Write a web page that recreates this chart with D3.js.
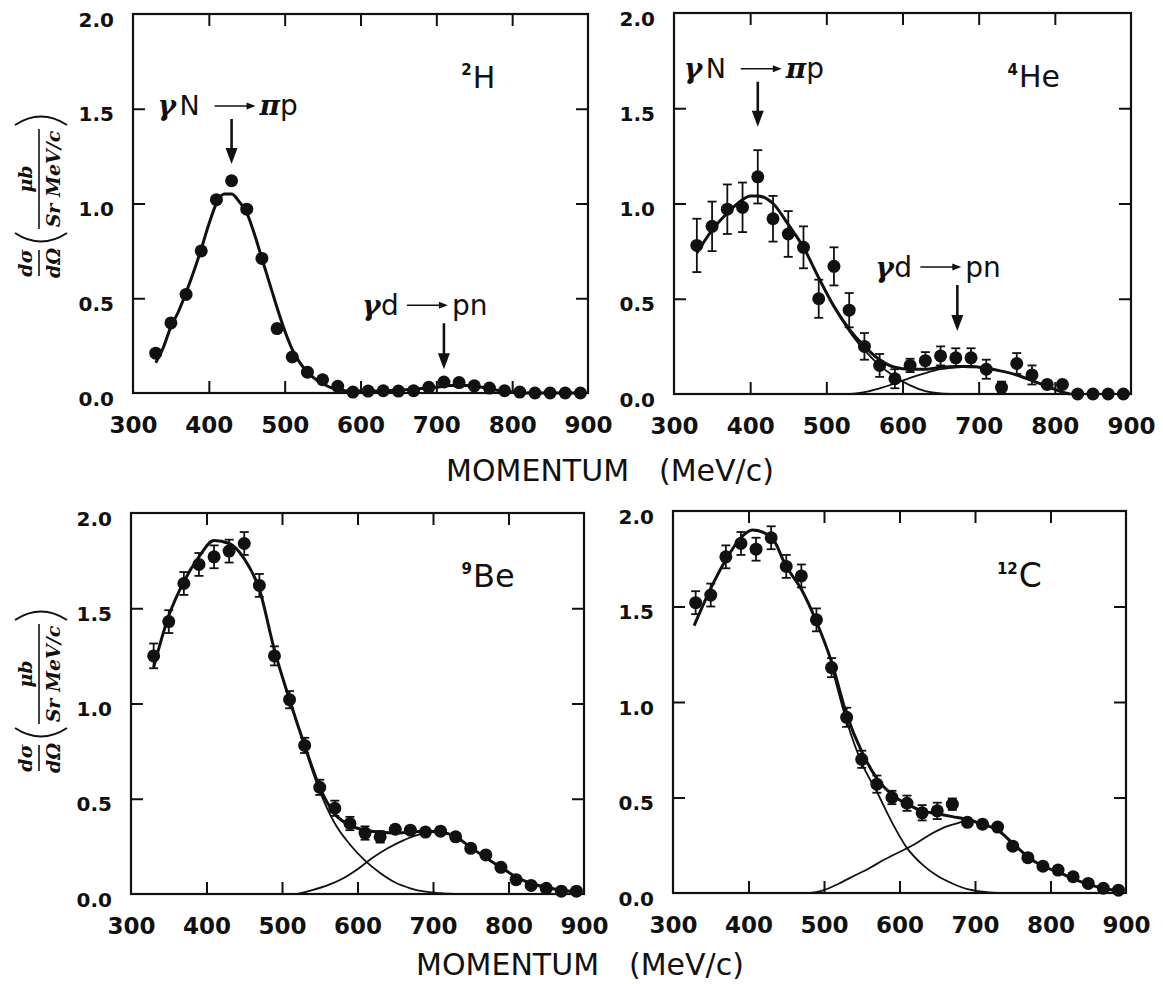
<!DOCTYPE html>
<html>
<head>
<meta charset="UTF-8">
<title>photoproton momentum spectra</title>
<script src="https://cdnjs.cloudflare.com/ajax/libs/d3/7.8.5/d3.min.js"></script>
<style>
  body { margin: 0; background: #fff; }
  svg text { fill: #111; }
  .tick text { font-family: "DejaVu Sans", sans-serif; font-weight: bold; }
  .sans { font-family: "DejaVu Sans", sans-serif; }
  .greek { font-family: "DejaVu Serif", serif; font-style: italic; font-weight: bold; }
  .ytitle text { font-family: "DejaVu Serif", serif; font-style: italic; font-weight: bold; font-size: 19px; text-anchor: middle; }
</style>
</head>
<body>
<div id="chart"></div>
<script>
// ---- data ----
var momentum = [330, 350, 370, 390, 410, 430, 450, 470, 490, 510, 530, 550, 570, 590, 610,
                630, 650, 670, 690, 710, 730, 750, 770, 790, 810, 830, 850, 870, 890];

var h2Values = [0.21, 0.37, 0.52, 0.75, 1.02, 1.12, 0.97, 0.71, 0.34, 0.19, 0.11, 0.07, 0.035, 0.005, 0.01,
                0.012, 0.01, 0.012, 0.03, 0.058, 0.055, 0.038, 0.026, 0.012, 0.005, 0, 0, 0, 0];

var he4Values = [0.78, 0.88, 0.97, 0.98, 1.14, 0.92, 0.84, 0.77, 0.50, 0.67, 0.44, 0.25, 0.15, 0.08, 0.15,
                 0.175, 0.20, 0.19, 0.19, 0.13, 0.035, 0.16, 0.10, 0.05, 0.05, 0, 0, 0, 0];
var he4Errors = [0.14, 0.13, 0.13, 0.13, 0.14, 0.12, 0.12, 0.11, 0.10, 0.10, 0.09, 0.07, 0.06, 0.05, 0.035,
                 0.045, 0.05, 0.05, 0.05, 0.05, 0.03, 0.055, 0.05, 0.02, 0.02, 0, 0, 0, 0];

var be9Values = [1.25, 1.43, 1.63, 1.73, 1.77, 1.80, 1.84, 1.62, 1.25, 1.02, 0.78, 0.56, 0.45, 0.37, 0.32,
                 0.30, 0.34, 0.335, 0.325, 0.33, 0.30, 0.24, 0.205, 0.14, 0.075, 0.045, 0.03, 0.015, 0.015];
var be9Errors = [0.065, 0.06, 0.06, 0.06, 0.06, 0.06, 0.06, 0.06, 0.05, 0.045, 0.04, 0.04, 0.04, 0.035, 0.035,
                 0.03, 0.02, 0.02, 0.02, 0.02, 0.02, 0.02, 0.02, 0.02, 0.02, 0.015, 0.015, 0.01, 0.01];

var c12Values = [1.52, 1.56, 1.76, 1.83, 1.80, 1.86, 1.71, 1.66, 1.43, 1.18, 0.92, 0.70, 0.57, 0.50, 0.47,
                 0.42, 0.43, 0.465, 0.37, 0.36, 0.345, 0.245, 0.185, 0.14, 0.12, 0.085, 0.05, 0.025, 0.015];
var c12Errors = [0.06, 0.06, 0.06, 0.06, 0.06, 0.06, 0.06, 0.06, 0.06, 0.05, 0.05, 0.045, 0.045, 0.035, 0.04,
                 0.04, 0.043, 0.03, 0.02, 0.02, 0.02, 0.02, 0.02, 0.02, 0.02, 0.02, 0.015, 0.01, 0.01];

// fitted curves
var h2FitMomentum = [330, 340, 350, 360, 370, 380, 390, 400, 410, 420, 430, 440, 450, 460, 470, 480, 490, 500,
                     510, 520, 530, 540, 550, 560, 570, 580, 600, 650, 700, 720, 740, 760, 780, 800, 820, 890];
var h2Fit = [0.16, 0.24, 0.35, 0.43, 0.53, 0.64, 0.76, 0.89, 1.0, 1.05, 1.05, 1.01, 0.95, 0.84, 0.71, 0.58, 0.45, 0.33,
             0.23, 0.16, 0.11, 0.075, 0.05, 0.03, 0.02, 0.012, 0.01, 0.015, 0.03, 0.04, 0.04, 0.03, 0.015, 0.005, 0, 0];

var he4FitMomentum = [330, 350, 370, 390, 400, 410, 430, 450, 470, 490, 510, 530, 550, 570, 590, 610, 630, 650,
                      670, 690, 710, 730, 750, 770, 790, 810, 820];
var he4Fit = [0.74, 0.86, 0.95, 1.02, 1.04, 1.04, 1.0, 0.89, 0.77, 0.61, 0.46, 0.34, 0.25, 0.18, 0.14, 0.13, 0.13, 0.14,
              0.145, 0.145, 0.135, 0.12, 0.10, 0.07, 0.04, 0.01, 0];
var he4PiMomentum = [510, 530, 550, 570, 590, 610, 630, 650, 670];
var he4Pi = [0.46, 0.33, 0.23, 0.15, 0.09, 0.045, 0.015, 0.003, 0];
var he4PnMomentum = [530, 550, 570, 590, 610, 630, 650, 670, 690];
var he4Pn = [0, 0.01, 0.03, 0.055, 0.085, 0.11, 0.13, 0.14, 0.145];

var be9FitMomentum = [330, 350, 370, 390, 410, 430, 450, 470, 490, 510, 530, 550, 570, 590, 610, 630, 650, 670,
                      690, 710, 730, 750, 770, 790, 810, 830, 850, 870, 890];
var be9Fit = [1.19, 1.46, 1.64, 1.77, 1.855, 1.84, 1.76, 1.60, 1.28, 1.02, 0.78, 0.56, 0.42, 0.36, 0.335, 0.325, 0.32, 0.325,
              0.33, 0.325, 0.30, 0.245, 0.19, 0.14, 0.09, 0.055, 0.035, 0.02, 0.012];
var be9PiMomentum = [530, 550, 570, 590, 610, 630, 650, 670, 690, 710, 730];
var be9Pi = [0.77, 0.54, 0.37, 0.26, 0.175, 0.11, 0.06, 0.03, 0.012, 0.004, 0];
var be9PnMomentum = [520, 540, 560, 580, 600, 620, 640, 660, 680, 700, 720, 730];
var be9Pn = [0, 0.02, 0.045, 0.08, 0.13, 0.19, 0.24, 0.28, 0.31, 0.325, 0.315, 0.30];

var c12FitMomentum = [328, 350, 370, 390, 405, 430, 450, 470, 490, 510, 530, 550, 570, 590, 610, 630, 650, 670,
                      690, 710, 730, 750, 770, 790, 810, 830, 850, 870, 890];
var c12Fit = [1.40, 1.595, 1.745, 1.86, 1.90, 1.865, 1.71, 1.59, 1.42, 1.21, 0.935, 0.74, 0.60, 0.515, 0.465, 0.43, 0.415, 0.40,
              0.385, 0.36, 0.33, 0.26, 0.19, 0.14, 0.11, 0.075, 0.045, 0.025, 0.01];
var c12PiMomentum = [510, 530, 550, 570, 590, 610, 630, 650, 670, 690, 710, 730];
var c12Pi = [1.19, 0.90, 0.68, 0.53, 0.37, 0.235, 0.15, 0.09, 0.05, 0.02, 0.007, 0];
var c12PnMomentum = [482, 500, 520, 540, 560, 580, 600, 620, 640, 660, 680, 690];
var c12Pn = [0, 0.015, 0.05, 0.09, 0.13, 0.175, 0.215, 0.255, 0.305, 0.345, 0.37, 0.385];

// axis ticks
var xTicks = [400, 500, 600, 700, 800];
var xTickLabels = [300, 400, 500, 600, 700, 800, 900];
var yTicks = [0.5, 1.0, 1.5];
var yTickLabels = [0.0, 0.5, 1.0, 1.5, 2.0];

var ink = "#111";

var svg = d3.select("#chart").append("svg")
    .attr("width", 1163)
    .attr("height", 984)
    .style("background", "#fff");

var panels = [
  { box: [133, 14, 455, 379], values: h2Values, errors: null,
    fit: [h2FitMomentum, h2Fit], parts: [],
    nucleus: { sup: "2", main: "H", size: 30, at: [748, 1.61] },
    reactions: [
      { kind: "N", at: [430, 1.467] },
      { kind: "d", at: [710, 0.41] }
    ] },
  { box: [674, 13, 457, 381], values: he4Values, errors: he4Errors,
    fit: [he4FitMomentum, he4Fit], parts: [[he4PiMomentum, he4Pi], [he4PnMomentum, he4Pn]],
    nucleus: { sup: "4", main: "He", size: 30, at: [753, 1.61] },
    reactions: [
      { kind: "N", at: [410, 1.66] },
      { kind: "d", at: [672, 0.614] }
    ] },
  { box: [131, 513, 453, 381], values: be9Values, errors: be9Errors,
    fit: [be9FitMomentum, be9Fit], parts: [[be9PiMomentum, be9Pi], [be9PnMomentum, be9Pn]],
    nucleus: { sup: "9", main: "Be", size: 32, at: [753, 1.61] },
    reactions: [] },
  { box: [673, 511, 453, 382], values: c12Values, errors: c12Errors,
    fit: [c12FitMomentum, c12Fit], parts: [[c12PiMomentum, c12Pi], [c12PnMomentum, c12Pn]],
    nucleus: { sup: "12", main: "C", size: 33, at: [758, 1.60] },
    reactions: [] }
];

function downArrow(a, x0, y0, y1) {
  a.append("line").attr("x1", x0).attr("x2", x0).attr("y1", y0).attr("y2", y1 - 12)
    .attr("stroke", ink).attr("stroke-width", 2.6);
  a.append("path").attr("d", "M" + (x0 - 6) + "," + (y1 - 16) + " L" + (x0 + 6) + "," + (y1 - 16) + " L" + x0 + "," + y1 + " Z")
    .attr("fill", ink);
}

function rightArrow(a, x0, x1, yy) {
  a.append("line").attr("x1", x0).attr("x2", x1 - 7).attr("y1", yy).attr("y2", yy)
    .attr("stroke", ink).attr("stroke-width", 1.6);
  a.append("path").attr("d", "M" + (x1 - 9) + "," + (yy - 3.5) + " L" + x1 + "," + yy + " L" + (x1 - 9) + "," + (yy + 3.5) + " Z")
    .attr("fill", ink);
}

function reaction(g, x, y, r) {
  var a = g.append("g").attr("transform", "translate(" + x(r.at[0]) + "," + y(r.at[1]) + ")");
  if (r.kind === "N") {
    a.append("text").attr("class", "greek").attr("x", -74).attr("font-size", 28).text("γ");
    a.append("text").attr("class", "sans").attr("x", -52).attr("font-size", 27).text("N");
    rightArrow(a, -17, 24, -9);
    var t = a.append("text").attr("x", 28).attr("font-size", 28);
    t.append("tspan").attr("class", "greek").text("π");
    t.append("tspan").attr("class", "sans").text("p");
    downArrow(a, 0, 4, 49);
  } else {
    a.append("text").attr("class", "greek").attr("x", -82).attr("font-size", 28).text("γ");
    a.append("text").attr("class", "sans").attr("x", -63).attr("font-size", 28).text("d");
    rightArrow(a, -37, 4, -10);
    a.append("text").attr("class", "sans").attr("x", 8).attr("font-size", 28).text("pn");
    downArrow(a, 0, 8, 54);
  }
}

function drawPanel(p) {
  var w = p.box[2], h = p.box[3];
  var g = svg.append("g").attr("transform", "translate(" + p.box[0] + "," + p.box[1] + ")");

  var x = d3.scaleLinear().domain([300, 900]).range([0, w]);
  var y = d3.scaleLinear().domain([0, 2]).range([h, 0]);

  // inward ticks on the four sides
  var tk = g.append("g");
  tk.append("g").attr("transform", "translate(0," + h + ")")
    .call(d3.axisTop(x).tickValues(xTicks).tickSize(12).tickFormat(""));
  tk.append("g").call(d3.axisBottom(x).tickValues(xTicks).tickSize(12).tickFormat(""));
  tk.append("g").call(d3.axisRight(y).tickValues(yTicks).tickSize(12).tickFormat(""));
  tk.append("g").attr("transform", "translate(" + w + ",0)")
    .call(d3.axisLeft(y).tickValues(yTicks).tickSize(12).tickFormat(""));
  tk.selectAll(".domain").remove();
  tk.selectAll(".tick line").attr("stroke", ink).attr("stroke-width", 2);

  // tick labels
  var xl = g.append("g").attr("transform", "translate(0," + h + ")")
    .call(d3.axisBottom(x).tickValues(xTickLabels).tickSize(0).tickPadding(24));
  xl.select(".domain").remove();
  xl.selectAll("text").style("font-size", "23px");

  var yl = g.append("g")
    .call(d3.axisLeft(y).tickValues(yTickLabels).tickSize(0).tickPadding(19).tickFormat(d3.format(".1f")));
  yl.select(".domain").remove();
  yl.selectAll("text").style("font-size", "20px").attr("dy", "0.6em");

  // frame
  g.append("rect").attr("width", w).attr("height", h)
    .attr("fill", "none").attr("stroke", ink).attr("stroke-width", 2.2);

  var line = d3.line()
    .x(function (d) { return x(d[0]); })
    .y(function (d) { return y(d[1]); })
    .curve(d3.curveMonotoneX);

  // component curves
  p.parts.forEach(function (c) {
    g.append("path").datum(d3.zip(c[0], c[1]))
      .attr("d", line).attr("fill", "none").attr("stroke", ink).attr("stroke-width", 1.8);
  });
  // total fit
  g.append("path").datum(d3.zip(p.fit[0], p.fit[1]))
    .attr("d", line).attr("fill", "none").attr("stroke", ink).attr("stroke-width", 3);

  var pts = momentum.map(function (m, i) {
    return { m: m, v: p.values[i], e: p.errors ? p.errors[i] : 0 };
  });

  // error bars
  var eb = g.append("g").selectAll("g").data(pts.filter(function (d) { return d.e > 0; }))
    .enter().append("g");
  eb.append("line")
    .attr("x1", function (d) { return x(d.m); }).attr("x2", function (d) { return x(d.m); })
    .attr("y1", function (d) { return y(d.v - d.e); }).attr("y2", function (d) { return y(d.v + d.e); })
    .attr("stroke", ink).attr("stroke-width", 1.8);
  [-1, 1].forEach(function (s) {
    eb.append("line")
      .attr("x1", function (d) { return x(d.m) - 4.5; }).attr("x2", function (d) { return x(d.m) + 4.5; })
      .attr("y1", function (d) { return y(d.v + s * d.e); }).attr("y2", function (d) { return y(d.v + s * d.e); })
      .attr("stroke", ink).attr("stroke-width", 1.8);
  });

  // data points
  g.append("g").selectAll("circle").data(pts).enter().append("circle")
    .attr("cx", function (d) { return x(d.m); })
    .attr("cy", function (d) { return y(d.v); })
    .attr("r", 6.5)
    .attr("fill", ink);

  // nucleus label
  var n = g.append("g").attr("transform", "translate(" + x(p.nucleus.at[0]) + "," + y(p.nucleus.at[1]) + ")");
  n.append("text").attr("class", "sans").attr("x", -1).attr("y", -p.nucleus.size * 0.42)
    .attr("text-anchor", "end").attr("font-size", 15).attr("font-weight", "bold").text(p.nucleus.sup);
  n.append("text").attr("class", "sans").attr("font-size", p.nucleus.size).text(p.nucleus.main);

  p.reactions.forEach(function (r) { reaction(g, x, y, r); });
}

panels.forEach(drawPanel);

// y axis titles:  dσ/dΩ (μb / Sr MeV/c)
function yTitle(cy) {
  var t = svg.append("g").attr("class", "ytitle")
    .attr("transform", "translate(0," + cy + ") rotate(-90)");
  t.append("text").attr("x", -61).attr("y", 32).text("dσ");
  t.append("text").attr("x", -61).attr("y", 60).text("dΩ");
  t.append("line").attr("x1", -74).attr("x2", -48).attr("y1", 39).attr("y2", 39)
    .attr("stroke", ink).attr("stroke-width", 1.6);
  t.append("path").attr("d", "M-31,15 Q-48,41 -31,67").attr("fill", "none").attr("stroke", ink).attr("stroke-width", 2);
  t.append("text").attr("x", 23).attr("y", 32).text("μb");
  t.append("line").attr("x1", -27).attr("x2", 73).attr("y1", 39).attr("y2", 39)
    .attr("stroke", ink).attr("stroke-width", 1.6);
  t.append("text").attr("x", 23).attr("y", 60).text("Sr MeV/c");
  t.append("path").attr("d", "M77,15 Q94,41 77,67").attr("fill", "none").attr("stroke", ink).attr("stroke-width", 2);
}
yTitle(202);
yTitle(697);

// x axis titles
function xTitle(cx, by) {
  var t = svg.append("text").attr("class", "sans")
    .attr("x", cx).attr("y", by).attr("text-anchor", "middle").attr("font-size", 30);
  t.append("tspan").text("MOMENTUM");
  t.append("tspan").attr("dx", 30).text("(MeV/c)");
}
xTitle(610, 481);
xTitle(580, 975);
</script>
</body>
</html>
